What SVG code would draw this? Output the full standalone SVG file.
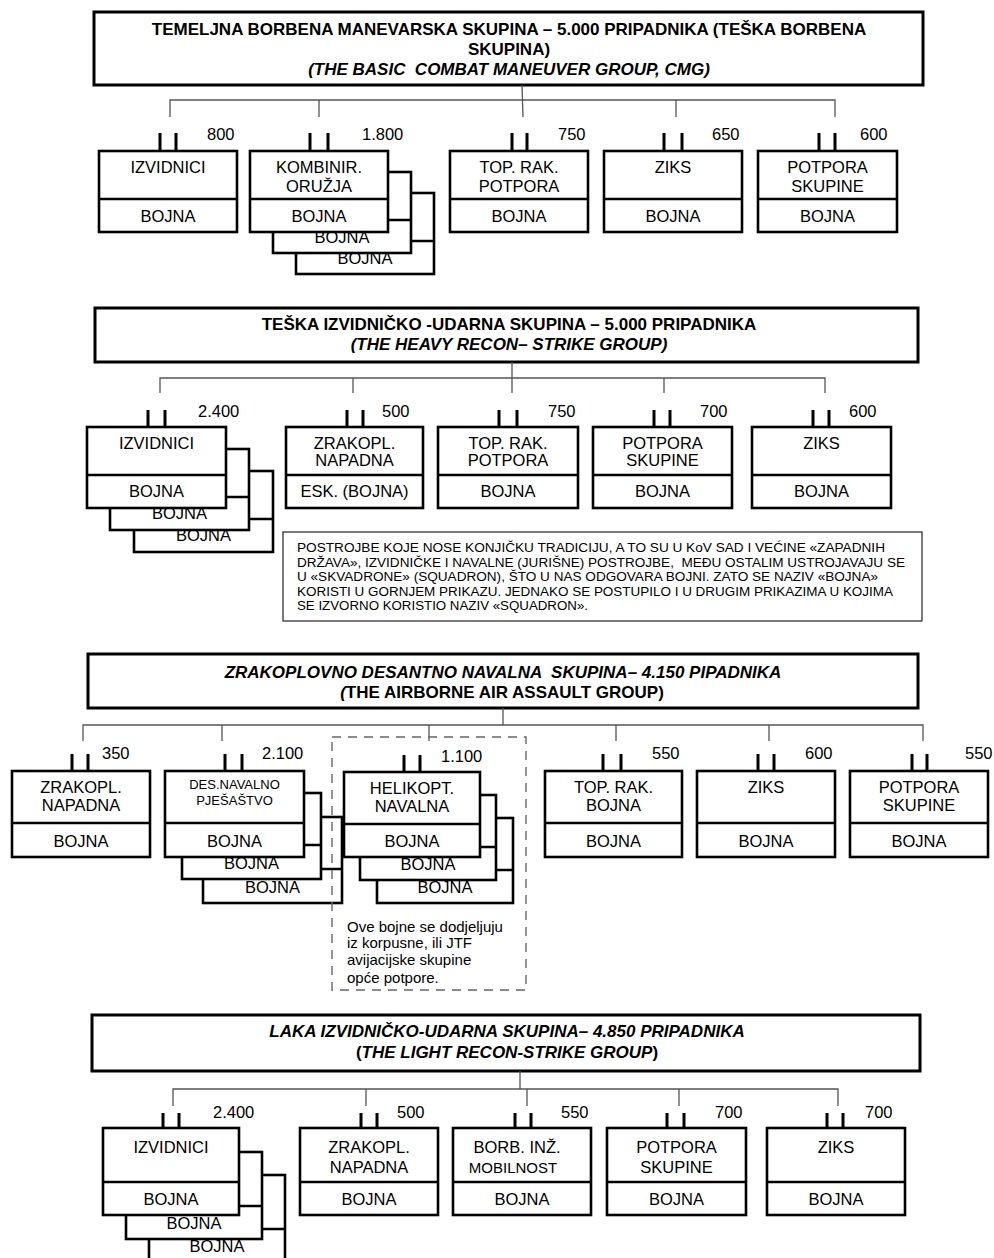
<svg xmlns="http://www.w3.org/2000/svg" width="994" height="1258" viewBox="0 0 994 1258">
<style>
text{font-family:"Liberation Sans",Arial,sans-serif;fill:#000}
.ttl{font-size:17px;font-weight:bold;text-anchor:middle;white-space:pre}
.it{font-style:italic}
.up{font-style:normal}
.t{font-size:16.5px;text-anchor:middle}
.sm{font-size:13px;text-anchor:middle}
.cnt{font-size:16.5px}
.note{font-size:12px}
.dn{font-size:15px}
.hb{fill:none;stroke:#000;stroke-width:3}
.box{fill:#fff;stroke:#000;stroke-width:2.6}
.dv{stroke:#000;stroke-width:2.4}
.tk{stroke:#000;stroke-width:3}
.cn{stroke:#555;stroke-width:1.3;fill:none}
.nb{fill:#fff;stroke:#333;stroke-width:1.3}
.dash{fill:none;stroke:#666;stroke-width:1.4;stroke-dasharray:9 7}
</style>

<!-- ============ SECTION 1 ============ -->
<g id="s1-title">
<rect class="hb" x="94" y="12" width="829" height="73" fill="#fff"/>
<text class="ttl" x="509" y="35">TEMELJNA BORBENA MANEVARSKA SKUPINA – 5.000 PRIPADNIKA (TEŠKA BORBENA</text>
<text class="ttl" x="509" y="55">SKUPINA)</text>
<text class="ttl it" x="509" y="75">(THE BASIC  COMBAT MANEUVER GROUP, CMG)</text>
</g>

<g id="s1-connectors">
<path class="cn" d="M170,117 V100 H835 V117 M319,100 V117 M522,85 L523,117 M676,100 V117"/>
</g>

<g id="s1-izvidnici">
<line class="tk" x1="160" y1="133" x2="160" y2="151"/><line class="tk" x1="176" y1="133" x2="176" y2="151"/>
<text class="cnt" x="207" y="140">800</text>
<rect class="box" x="99" y="151" width="138" height="81"/>
<line class="dv" x1="99" y1="199" x2="237" y2="199"/>
<text class="t" x="168" y="173">IZVIDNICI</text>
<text class="t" x="168" y="222">BOJNA</text>
</g>

<g id="s1-kombinir">
<line class="tk" x1="310" y1="133" x2="310" y2="151"/><line class="tk" x1="328" y1="133" x2="328" y2="151"/>
<text class="cnt" x="362" y="140">1.800</text>
<g transform="translate(46,42)">
<rect class="box" x="250" y="151" width="138" height="81"/>
<line class="dv" x1="250" y1="199" x2="388" y2="199"/>
<text class="t" x="319" y="222">BOJNA</text>
</g>
<g transform="translate(23,21)">
<rect class="box" x="250" y="151" width="138" height="81"/>
<line class="dv" x1="250" y1="199" x2="388" y2="199"/>
<text class="t" x="319" y="222">BOJNA</text>
</g>
<rect class="box" x="250" y="151" width="138" height="81"/>
<line class="dv" x1="250" y1="199" x2="388" y2="199"/>
<text class="t" x="319" y="173">KOMBINIR.</text>
<text class="t" x="319" y="192">ORUŽJA</text>
<text class="t" x="319" y="222">BOJNA</text>
</g>

<g id="s1-toprak">
<line class="tk" x1="512" y1="133" x2="512" y2="151"/><line class="tk" x1="527" y1="133" x2="527" y2="151"/>
<text class="cnt" x="558" y="140">750</text>
<rect class="box" x="450" y="151" width="138" height="81"/>
<line class="dv" x1="450" y1="199" x2="588" y2="199"/>
<text class="t" x="519" y="173">TOP. RAK.</text>
<text class="t" x="519" y="192">POTPORA</text>
<text class="t" x="519" y="222">BOJNA</text>
</g>

<g id="s1-ziks">
<line class="tk" x1="664" y1="133" x2="664" y2="151"/><line class="tk" x1="682" y1="133" x2="682" y2="151"/>
<text class="cnt" x="712" y="140">650</text>
<rect class="box" x="604" y="151" width="138" height="81"/>
<line class="dv" x1="604" y1="199" x2="742" y2="199"/>
<text class="t" x="673" y="173">ZIKS</text>
<text class="t" x="673" y="222">BOJNA</text>
</g>

<g id="s1-potpora">
<line class="tk" x1="819" y1="133" x2="819" y2="151"/><line class="tk" x1="835" y1="133" x2="835" y2="151"/>
<text class="cnt" x="860" y="140">600</text>
<rect class="box" x="758" y="151" width="139" height="81"/>
<line class="dv" x1="758" y1="199" x2="897" y2="199"/>
<text class="t" x="827.5" y="173">POTPORA</text>
<text class="t" x="827.5" y="192">SKUPINE</text>
<text class="t" x="827.5" y="222">BOJNA</text>
</g>

<!-- ============ SECTION 2 ============ -->
<g id="s2-title">
<rect class="hb" x="95" y="308" width="823" height="54" fill="#fff"/>
<text class="ttl" x="509" y="330">TEŠKA IZVIDNIČKO -UDARNA SKUPINA – 5.000 PRIPADNIKA</text>
<text class="ttl it" x="509" y="350">(THE HEAVY RECON– STRIKE GROUP)</text>
</g>

<g id="s2-connectors">
<path class="cn" d="M160,393 V378 H825 V393 M353,378 V393 M512,362 V393 M664,378 V393"/>
</g>

<g id="s2-izvidnici">
<line class="tk" x1="148" y1="410" x2="148" y2="427"/><line class="tk" x1="165" y1="410" x2="165" y2="427"/>
<text class="cnt" x="198" y="417">2.400</text>
<g transform="translate(47,44)">
<rect class="box" x="87" y="427" width="139" height="81"/>
<line class="dv" x1="87" y1="475" x2="226" y2="475"/>
<text class="t" x="156.5" y="497">BOJNA</text>
</g>
<g transform="translate(23,22)">
<rect class="box" x="87" y="427" width="139" height="81"/>
<line class="dv" x1="87" y1="475" x2="226" y2="475"/>
<text class="t" x="156.5" y="497">BOJNA</text>
</g>
<rect class="box" x="87" y="427" width="139" height="81"/>
<line class="dv" x1="87" y1="475" x2="226" y2="475"/>
<text class="t" x="156.5" y="449">IZVIDNICI</text>
<text class="t" x="156.5" y="497">BOJNA</text>
</g>

<g id="s2-zrakopl">
<line class="tk" x1="347" y1="410" x2="347" y2="427"/><line class="tk" x1="363" y1="410" x2="363" y2="427"/>
<text class="cnt" x="382" y="417">500</text>
<rect class="box" x="286" y="427" width="137" height="81"/>
<line class="dv" x1="286" y1="475" x2="423" y2="475"/>
<text class="t" x="354.5" y="449">ZRAKOPL.</text>
<text class="t" x="354.5" y="466">NAPADNA</text>
<text class="t" x="354.5" y="497">ESK. (BOJNA)</text>
</g>

<g id="s2-toprak">
<line class="tk" x1="499" y1="410" x2="499" y2="427"/><line class="tk" x1="517" y1="410" x2="517" y2="427"/>
<text class="cnt" x="548" y="417">750</text>
<rect class="box" x="438" y="427" width="140" height="81"/>
<line class="dv" x1="438" y1="475" x2="578" y2="475"/>
<text class="t" x="508" y="449">TOP. RAK.</text>
<text class="t" x="508" y="466">POTPORA</text>
<text class="t" x="508" y="497">BOJNA</text>
</g>

<g id="s2-potpora">
<line class="tk" x1="654" y1="410" x2="654" y2="427"/><line class="tk" x1="670" y1="410" x2="670" y2="427"/>
<text class="cnt" x="700" y="417">700</text>
<rect class="box" x="593" y="427" width="139" height="81"/>
<line class="dv" x1="593" y1="475" x2="732" y2="475"/>
<text class="t" x="662.5" y="449">POTPORA</text>
<text class="t" x="662.5" y="466">SKUPINE</text>
<text class="t" x="662.5" y="497">BOJNA</text>
</g>

<g id="s2-ziks">
<line class="tk" x1="813" y1="410" x2="813" y2="427"/><line class="tk" x1="829" y1="410" x2="829" y2="427"/>
<text class="cnt" x="849" y="417">600</text>
<rect class="box" x="752" y="427" width="139" height="81"/>
<line class="dv" x1="752" y1="475" x2="891" y2="475"/>
<text class="t" x="821.5" y="449">ZIKS</text>
<text class="t" x="821.5" y="497">BOJNA</text>
</g>

<g id="s2-note">
<rect class="nb" x="283" y="532" width="639" height="89"/>
<text class="note" x="297" y="552" textLength="588" lengthAdjust="spacingAndGlyphs">POSTROJBE KOJE NOSE KONJIČKU TRADICIJU, A TO SU U KoV SAD I VEĆINE «ZAPADNIH</text>
<text class="note" x="297" y="566.5" textLength="608" lengthAdjust="spacingAndGlyphs" style="white-space:pre">DRŽAVA», IZVIDNIČKE I NAVALNE (JURIŠNE) POSTROJBE,  MEĐU OSTALIM USTROJAVAJU SE</text>
<text class="note" x="297" y="581" textLength="581" lengthAdjust="spacingAndGlyphs">U «SKVADRONE» (SQUADRON), ŠTO U NAS ODGOVARA BOJNI. ZATO SE NAZIV «BOJNA»</text>
<text class="note" x="297" y="595.5" textLength="596" lengthAdjust="spacingAndGlyphs">KORISTI U GORNJEM PRIKAZU. JEDNAKO SE POSTUPILO I U DRUGIM PRIKAZIMA U KOJIMA</text>
<text class="note" x="297" y="610" textLength="291" lengthAdjust="spacingAndGlyphs">SE IZVORNO KORISTIO NAZIV «SQUADRON».</text>
</g>

<!-- ============ SECTION 3 ============ -->
<g id="s3-title">
<rect class="hb" x="88" y="654" width="830" height="54" fill="#fff"/>
<text class="ttl it" x="503" y="678">ZRAKOPLOVNO DESANTNO NAVALNA  SKUPINA– 4.150 PIPADNIKA</text>
<text class="ttl" x="502" y="698"><tspan class="it">(</tspan>THE AIRBORNE AIR ASSAULT GROUP)</text>
</g>

<g id="s3-connectors">
<path class="cn" d="M83,741 V725 H923 V741 M222,725 V741 M429,725 V741 M503,708 V725 M616,725 V741 M769,725 V741"/>
</g>

<g id="s3-zrakopl">
<line class="tk" x1="72" y1="754" x2="72" y2="771"/><line class="tk" x1="88" y1="754" x2="88" y2="771"/>
<text class="cnt" x="102" y="759">350</text>
<rect class="box" x="12" y="771" width="138" height="86"/>
<line class="dv" x1="12" y1="823" x2="150" y2="823"/>
<text class="t" x="81" y="793">ZRAKOPL.</text>
<text class="t" x="81" y="811">NAPADNA</text>
<text class="t" x="81" y="847">BOJNA</text>
</g>

<g id="s3-des">
<line class="tk" x1="225" y1="754" x2="225" y2="771"/><line class="tk" x1="242" y1="754" x2="242" y2="771"/>
<text class="cnt" x="262" y="759">2.100</text>
<g transform="translate(38,46)">
<rect class="box" x="165" y="771" width="139" height="86"/>
<line class="dv" x1="165" y1="823" x2="304" y2="823"/>
<text class="t" x="234.5" y="847">BOJNA</text>
</g>
<g transform="translate(17,22)">
<rect class="box" x="165" y="771" width="139" height="86"/>
<line class="dv" x1="165" y1="823" x2="304" y2="823"/>
<text class="t" x="234.5" y="847">BOJNA</text>
</g>
<rect class="box" x="165" y="771" width="139" height="86"/>
<line class="dv" x1="165" y1="823" x2="304" y2="823"/>
<text class="sm" x="234.5" y="789">DES.NAVALNO</text>
<text class="sm" x="234.5" y="805">PJEŠAŠTVO</text>
<text class="t" x="234.5" y="847">BOJNA</text>
</g>

<g id="s3-helikopt">
<line class="tk" x1="404" y1="755" x2="404" y2="772"/><line class="tk" x1="420" y1="755" x2="420" y2="772"/>
<text class="cnt" x="441" y="762">1.100</text>
<g transform="translate(33,46)">
<rect class="box" x="344" y="772" width="136" height="85"/>
<line class="dv" x1="344" y1="824" x2="480" y2="824"/>
<text class="t" x="412" y="847">BOJNA</text>
</g>
<g transform="translate(16,23)">
<rect class="box" x="344" y="772" width="136" height="85"/>
<line class="dv" x1="344" y1="824" x2="480" y2="824"/>
<text class="t" x="412" y="847">BOJNA</text>
</g>
<rect class="box" x="344" y="772" width="136" height="85"/>
<line class="dv" x1="344" y1="824" x2="480" y2="824"/>
<text class="t" x="412" y="794">HELIKOPT.</text>
<text class="t" x="412" y="812">NAVALNA</text>
<text class="t" x="412" y="847">BOJNA</text>
</g>

<g id="s3-toprak">
<line class="tk" x1="603" y1="754" x2="603" y2="771"/><line class="tk" x1="621" y1="754" x2="621" y2="771"/>
<text class="cnt" x="652" y="759">550</text>
<rect class="box" x="545" y="771" width="137" height="86"/>
<line class="dv" x1="545" y1="823" x2="682" y2="823"/>
<text class="t" x="613.5" y="793">TOP. RAK.</text>
<text class="t" x="613.5" y="811">BOJNA</text>
<text class="t" x="613.5" y="847">BOJNA</text>
</g>

<g id="s3-ziks">
<line class="tk" x1="758" y1="754" x2="758" y2="771"/><line class="tk" x1="774" y1="754" x2="774" y2="771"/>
<text class="cnt" x="805" y="759">600</text>
<rect class="box" x="697" y="771" width="138" height="86"/>
<line class="dv" x1="697" y1="823" x2="835" y2="823"/>
<text class="t" x="766" y="793">ZIKS</text>
<text class="t" x="766" y="847">BOJNA</text>
</g>

<g id="s3-potpora">
<line class="tk" x1="912" y1="754" x2="912" y2="771"/><line class="tk" x1="927" y1="754" x2="927" y2="771"/>
<text class="cnt" x="965" y="759">550</text>
<rect class="box" x="850" y="771" width="138" height="86"/>
<line class="dv" x1="850" y1="823" x2="988" y2="823"/>
<text class="t" x="919" y="793">POTPORA</text>
<text class="t" x="919" y="811">SKUPINE</text>
<text class="t" x="919" y="847">BOJNA</text>
</g>

<g id="s3-dashed-note">
<rect class="dash" x="332" y="737" width="194" height="253"/>
<text class="dn" x="347" y="932">Ove bojne se dodjeljuju</text>
<text class="dn" x="347" y="948">iz korpusne, ili JTF</text>
<text class="dn" x="347" y="965">avijacijske skupine</text>
<text class="dn" x="347" y="983">opće potpore.</text>
</g>

<!-- ============ SECTION 4 ============ -->
<g id="s4-title">
<rect class="hb" x="92" y="1015" width="828" height="56" fill="#fff"/>
<text class="ttl it" x="507" y="1037">LAKA IZVIDNIČKO-UDARNA SKUPINA– 4.850 PRIPADNIKA</text>
<text class="ttl" x="507" y="1058">(<tspan class="it">THE LIGHT RECON-STRIKE GROUP</tspan>)</text>
</g>

<g id="s4-connectors">
<path class="cn" d="M173,1106 V1089 H838 V1106 M366,1089 V1106 M520,1071 V1089 M527,1089 V1106 M679,1089 V1106"/>
</g>

<g id="s4-izvidnici">
<line class="tk" x1="163" y1="1113" x2="163" y2="1128"/><line class="tk" x1="179" y1="1113" x2="179" y2="1128"/>
<text class="cnt" x="213" y="1118">2.400</text>
<g transform="translate(46,47)">
<rect class="box" x="103" y="1128" width="136" height="87"/>
<line class="dv" x1="103" y1="1182" x2="239" y2="1182"/>
<text class="t" x="171" y="1205">BOJNA</text>
</g>
<g transform="translate(23,24)">
<rect class="box" x="103" y="1128" width="136" height="87"/>
<line class="dv" x1="103" y1="1182" x2="239" y2="1182"/>
<text class="t" x="171" y="1205">BOJNA</text>
</g>
<rect class="box" x="103" y="1128" width="136" height="87"/>
<line class="dv" x1="103" y1="1182" x2="239" y2="1182"/>
<text class="t" x="171" y="1153">IZVIDNICI</text>
<text class="t" x="171" y="1205">BOJNA</text>
</g>

<g id="s4-zrakopl">
<line class="tk" x1="361" y1="1113" x2="361" y2="1128"/><line class="tk" x1="377" y1="1113" x2="377" y2="1128"/>
<text class="cnt" x="397" y="1118">500</text>
<rect class="box" x="300" y="1128" width="138" height="87"/>
<line class="dv" x1="300" y1="1182" x2="438" y2="1182"/>
<text class="t" x="369" y="1153">ZRAKOPL.</text>
<text class="t" x="369" y="1173">NAPADNA</text>
<text class="t" x="369" y="1205">BOJNA</text>
</g>

<g id="s4-borb">
<line class="tk" x1="515" y1="1113" x2="515" y2="1128"/><line class="tk" x1="531" y1="1113" x2="531" y2="1128"/>
<text class="cnt" x="561" y="1118">550</text>
<rect class="box" x="453" y="1128" width="138" height="87"/>
<line class="dv" x1="453" y1="1182" x2="591" y2="1182"/>
<text class="t" x="517" y="1153">BORB. INŽ.</text>
<text class="t" x="513" y="1173" style="font-size:15px">MOBILNOST</text>
<text class="t" x="522" y="1205">BOJNA</text>
</g>

<g id="s4-potpora">
<line class="tk" x1="667" y1="1113" x2="667" y2="1128"/><line class="tk" x1="684" y1="1113" x2="684" y2="1128"/>
<text class="cnt" x="715" y="1118">700</text>
<rect class="box" x="607" y="1128" width="139" height="87"/>
<line class="dv" x1="607" y1="1182" x2="746" y2="1182"/>
<text class="t" x="676.5" y="1153">POTPORA</text>
<text class="t" x="676.5" y="1173">SKUPINE</text>
<text class="t" x="676.5" y="1205">BOJNA</text>
</g>

<g id="s4-ziks">
<line class="tk" x1="827" y1="1113" x2="827" y2="1128"/><line class="tk" x1="843" y1="1113" x2="843" y2="1128"/>
<text class="cnt" x="865" y="1118">700</text>
<rect class="box" x="767" y="1128" width="138" height="87"/>
<line class="dv" x1="767" y1="1182" x2="905" y2="1182"/>
<text class="t" x="836" y="1153">ZIKS</text>
<text class="t" x="836" y="1205">BOJNA</text>
</g>
</svg>
